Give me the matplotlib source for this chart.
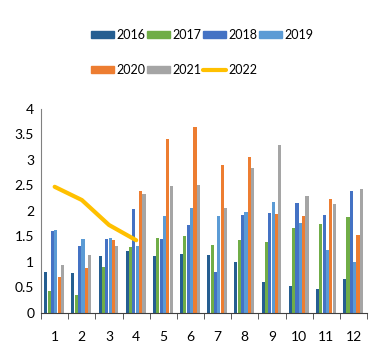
import numpy as np
import matplotlib.pyplot as plt
from matplotlib.patches import Patch
from matplotlib.lines import Line2D

plt.rcParams['font.family'] = ['Lato', 'DejaVu Sans']

# # Data:
months = np.arange(1, 13)
month_labels = [str(m) for m in months]
years = ['2016', '2017', '2018', '2019', '2020', '2021']
v2016 = [0.80, 0.77, 1.12, 1.20, 1.12, 1.15, 1.13, 1.00, 0.60, 0.53, 0.46, 0.66]
v2017 = [0.42, 0.35, 0.90, 1.28, 1.47, 1.51, 1.33, 1.43, 1.38, 1.66, 1.74, 1.87]
v2018 = [1.60, 1.30, 1.45, 2.03, 1.45, 1.72, 0.79, 1.91, 1.96, 2.16, 1.91, 2.38]
v2019 = [1.62, 1.45, 1.47, 1.30, 1.90, 2.05, 1.90, 1.97, 2.17, 1.76, 1.22, 1.00]
v2020 = [0.70, 0.87, 1.42, 2.38, 3.40, 3.65, 2.89, 3.06, 1.93, 1.90, 2.23, 1.53]
v2021 = [0.93, 1.13, 1.30, 2.33, 2.48, 2.50, 2.05, 2.84, 3.29, 2.28, 2.14, 2.42]
months_2022 = [1, 2, 3, 4]
v2022 = [2.47, 2.21, 1.72, 1.42]

bar_series = [v2016, v2017, v2018, v2019, v2020, v2021]
colors = ['#255E91', '#70AD47', '#4472C4', '#5B9BD5', '#ED7D31', '#A5A5A5']
line_color = '#FFC000'

fig = plt.figure(figsize=(3.84, 3.63), dpi=100)
ax = fig.add_axes([0.107, 0.139, 0.849, 0.561])

bar_w = 0.123
for i, (vals, c) in enumerate(zip(bar_series, colors)):
    offset = (i - 2.5) * bar_w - 0.02
    ax.bar(months + offset, vals, width=bar_w * 0.92, color=c, linewidth=0)

ax.plot(months_2022, v2022, color=line_color, linewidth=3, solid_capstyle='round', zorder=3)

ax.set_xlim(0.5, 12.5)
ax.set_ylim(0, 4)
ax.set_yticks([0, 0.5, 1, 1.5, 2, 2.5, 3, 3.5, 4])
ax.set_yticklabels(['0', '0.5', '1', '1.5', '2', '2.5', '3', '3.5', '4'])
ax.set_xticks(months)
ax.set_xticklabels(month_labels)
ax.set_xticks(np.arange(0.5, 13, 1), minor=True)
ax.tick_params(axis='x', which='major', length=0, pad=13, labelsize=10)
ax.tick_params(axis='x', which='minor', length=4, direction='out', color='#404040')
ax.tick_params(axis='y', length=0, pad=5, labelsize=10)

for s in ['top', 'right']:
    ax.spines[s].set_visible(False)
ax.spines['left'].set_color('#808080')
ax.spines['bottom'].set_color('#404040')

# # Legend: reordered so that column-major fill gives two rows
handles = [Patch(color=c) for c in colors] + [Line2D([], [], color=line_color, linewidth=3, solid_capstyle='round')]
labels = years + ['2022']
order = [0, 4, 1, 5, 2, 6, 3]
fig.legend([handles[i] for i in order], [labels[i] for i in order],
           ncol=4, loc='upper left', bbox_to_anchor=(0.224, 0.935), frameon=False,
           fontsize=9, handlelength=1.85, handleheight=0.5, handletextpad=0.2,
           columnspacing=0.1, labelspacing=1.9, borderaxespad=0)

plt.savefig('out.png', dpi=100)
